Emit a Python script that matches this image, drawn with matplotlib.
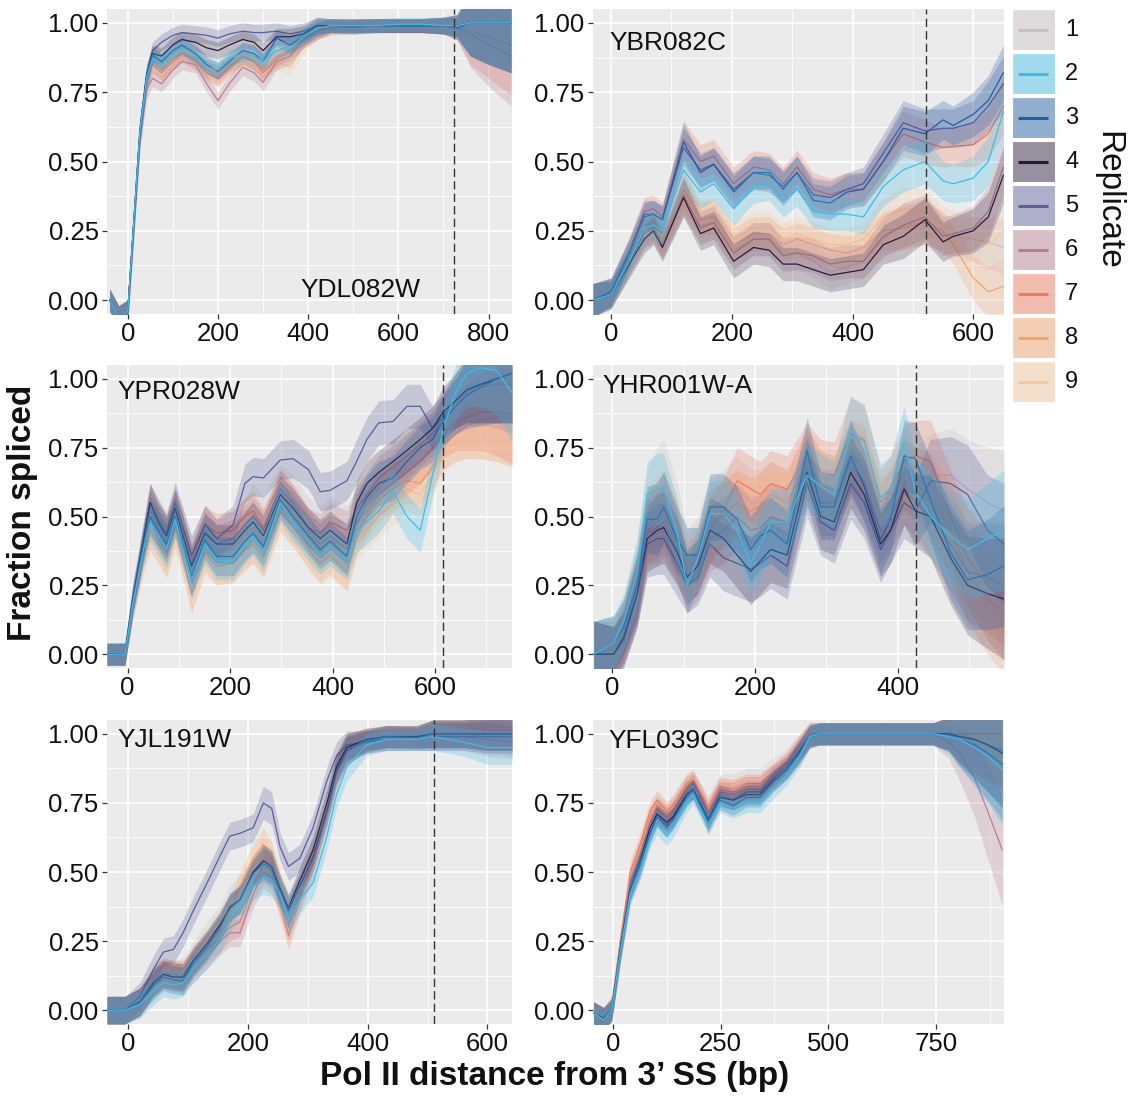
"""
Fraction spliced vs Pol II distance from the 3' splice site, six introns,
nine replicates each (smoothed mean +/- band), ggplot-like grey panels.
"""

import numpy as np
import matplotlib.pyplot as plt
from matplotlib.patches import Rectangle
from matplotlib.ticker import FixedLocator

plt.rcParams['font.family'] = ['Liberation Sans', 'DejaVu Sans']

W, H = 1134, 1098

REPLICATES = ['1', '2', '3', '4', '5', '6', '7', '8', '9']
LINE_COLORS = ['#c9bfc3', '#3fbde6', '#1d5fa8', '#2a1a38', '#5a5e9c',
               '#b77f93', '#f27b5e', '#f5a36c', '#f8c79e']
# band fills, a touch softer than the lines
FILL_COLORS = ['#c9bfc3', '#3fbde6', '#1d5fa8', '#4a3a55', '#5a5e9c',
               '#b77f93', '#f27b5e', '#f5a36c', '#f8c79e']
# replicate indices in the order the bands are layered (last = on top)
DRAW_ORDER = [0, 8, 7, 6, 5, 4, 3, 2, 1]
BAND_ALPHA = 0.26

# ── YDL082W ────────────────────────────────────────────────────────────────
ydl082w_x = [-40, -20, 0, 12, 27, 42, 55, 75, 100, 120, 150, 175, 200, 225, 255,
             280, 300, 330, 360, 390, 420, 450, 500, 550, 600, 650, 700, 730, 760, 800, 850]
ydl082w_mean = [
    [0.0, -0.06, -0.04, 0.24, 0.60, 0.80, 0.87, 0.85, 0.89, 0.91, 0.89, 0.86, 0.84, 0.87, 0.90, 0.89, 0.87, 0.90, 0.92, 0.95, 0.98, 0.99, 0.99, 0.99, 0.99, 0.99, 0.99, 0.99, 1.0, 1.0, 1.0],
    [0.0, -0.06, -0.04, 0.25, 0.61, 0.80, 0.87, 0.85, 0.89, 0.91, 0.88, 0.84, 0.83, 0.87, 0.89, 0.88, 0.86, 0.90, 0.91, 0.95, 0.98, 0.99, 0.99, 0.99, 0.995, 0.995, 0.99, 0.99, 1.0, 1.0, 1.0],
    [0.0, -0.06, -0.04, 0.24, 0.60, 0.81, 0.885, 0.86, 0.90, 0.92, 0.89, 0.85, 0.825, 0.86, 0.90, 0.89, 0.86, 0.945, 0.92, 0.95, 0.98, 0.99, 0.985, 0.99, 0.99, 0.99, 0.99, 0.98, 1.0, 1.0, 1.0],
    [0.0, -0.06, -0.04, 0.25, 0.61, 0.81, 0.89, 0.88, 0.92, 0.94, 0.93, 0.91, 0.90, 0.92, 0.94, 0.93, 0.90, 0.95, 0.95, 0.96, 0.99, 0.99, 0.99, 0.99, 0.99, 0.99, 0.99, 0.99, 1.0, 1.0, 1.0],
    [0.0, -0.06, -0.04, 0.25, 0.62, 0.82, 0.90, 0.93, 0.955, 0.965, 0.96, 0.955, 0.945, 0.96, 0.97, 0.965, 0.965, 0.97, 0.96, 0.97, 0.99, 0.99, 0.99, 0.99, 0.99, 0.99, 0.99, 0.99, 1.0, 1.0, 1.0],
    [0.0, -0.06, -0.04, 0.23, 0.58, 0.76, 0.80, 0.78, 0.83, 0.86, 0.85, 0.78, 0.72, 0.78, 0.84, 0.82, 0.785, 0.86, 0.88, 0.94, 0.97, 0.99, 0.985, 0.99, 0.99, 0.99, 0.99, 0.98, 0.96, 0.92, 0.88],
    [0.0, -0.06, -0.04, 0.24, 0.59, 0.78, 0.85, 0.82, 0.86, 0.89, 0.86, 0.82, 0.80, 0.84, 0.88, 0.86, 0.82, 0.87, 0.90, 0.94, 0.97, 0.98, 0.985, 0.99, 0.99, 0.99, 0.99, 0.98, 0.97, 0.95, 0.92],
    [0.0, -0.06, -0.04, 0.24, 0.60, 0.79, 0.86, 0.83, 0.87, 0.895, 0.87, 0.83, 0.81, 0.85, 0.88, 0.86, 0.83, 0.88, 0.89, 0.94, 0.97, 0.985, 0.99, 0.99, 0.99, 0.99, 0.99, 0.99, 1.0, 1.0, 1.0],
    [0.0, -0.06, -0.04, 0.24, 0.60, 0.79, 0.86, 0.83, 0.87, 0.89, 0.86, 0.83, 0.82, 0.85, 0.88, 0.86, 0.83, 0.86, 0.84, 0.92, 0.97, 0.985, 0.99, 0.99, 0.99, 0.99, 0.99, 0.99, 1.0, 1.0, 1.0],
]
ydl082w_half = [0.04, 0.04, 0.04, 0.04, 0.04, 0.035, 0.03, 0.03, 0.03, 0.03, 0.03, 0.03, 0.03, 0.03, 0.03,
                0.03, 0.03, 0.03, 0.03, 0.03, 0.03, 0.025, 0.025, 0.025, 0.025, 0.025, 0.03, 0.04, 0.12, 0.15, 0.18]

# ── YBR082C ────────────────────────────────────────────────────────────────
ybr082c_x = [-30, 0, 30, 55, 70, 85, 120, 148, 170, 203, 236, 262, 285, 308, 335,
             363, 391, 418, 451, 484, 520, 550, 567, 600, 625, 650]
ybr082c_mean = [
    [0.0, 0.02, 0.14, 0.23, 0.25, 0.20, 0.37, 0.27, 0.28, 0.18, 0.22, 0.22, 0.17, 0.17, 0.14, 0.10, 0.12, 0.14, 0.22, 0.27, 0.28, 0.24, 0.23, 0.22, 0.21, 0.19],
    [0.0, 0.02, 0.14, 0.26, 0.27, 0.25, 0.47, 0.39, 0.42, 0.33, 0.41, 0.42, 0.36, 0.40, 0.32, 0.31, 0.31, 0.30, 0.41, 0.47, 0.50, 0.43, 0.42, 0.44, 0.50, 0.68],
    [0.0, 0.03, 0.17, 0.30, 0.31, 0.29, 0.57, 0.46, 0.49, 0.39, 0.46, 0.46, 0.40, 0.46, 0.36, 0.35, 0.39, 0.40, 0.50, 0.62, 0.60, 0.65, 0.63, 0.67, 0.72, 0.82],
    [0.0, 0.02, 0.13, 0.22, 0.25, 0.19, 0.37, 0.24, 0.26, 0.14, 0.19, 0.18, 0.13, 0.13, 0.11, 0.09, 0.10, 0.11, 0.20, 0.23, 0.29, 0.21, 0.23, 0.25, 0.30, 0.45],
    [0.0, 0.03, 0.17, 0.31, 0.31, 0.29, 0.55, 0.47, 0.49, 0.40, 0.46, 0.45, 0.41, 0.46, 0.38, 0.37, 0.40, 0.42, 0.53, 0.64, 0.61, 0.62, 0.62, 0.64, 0.70, 0.78],
    [0.0, 0.02, 0.14, 0.24, 0.26, 0.20, 0.38, 0.26, 0.28, 0.17, 0.22, 0.22, 0.16, 0.17, 0.16, 0.13, 0.14, 0.14, 0.23, 0.27, 0.30, 0.23, 0.24, 0.26, 0.32, 0.48],
    [0.0, 0.03, 0.18, 0.32, 0.33, 0.30, 0.58, 0.50, 0.52, 0.42, 0.48, 0.47, 0.42, 0.48, 0.40, 0.38, 0.40, 0.40, 0.50, 0.60, 0.57, 0.55, 0.555, 0.56, 0.60, 0.70],
    [0.0, 0.02, 0.15, 0.25, 0.27, 0.21, 0.40, 0.29, 0.30, 0.20, 0.24, 0.24, 0.20, 0.22, 0.20, 0.18, 0.17, 0.19, 0.25, 0.26, 0.28, 0.25, 0.20, 0.08, 0.03, 0.05],
    [0.0, 0.02, 0.15, 0.25, 0.27, 0.22, 0.40, 0.30, 0.31, 0.22, 0.26, 0.26, 0.22, 0.24, 0.22, 0.20, 0.20, 0.22, 0.30, 0.33, 0.32, 0.27, 0.25, 0.22, 0.20, 0.25],
]
ybr082c_half = [0.06, 0.05, 0.05, 0.05, 0.05, 0.05, 0.07, 0.06, 0.06, 0.06, 0.06, 0.06, 0.06, 0.06, 0.06,
                0.06, 0.06, 0.06, 0.07, 0.08, 0.08, 0.07, 0.07, 0.08, 0.09, 0.10]

# ── YPR028W ────────────────────────────────────────────────────────────────
ypr028w_x = [-40, -5, 11, 31, 44, 60, 76, 93, 110, 125, 151, 174, 206, 229, 245, 265, 298, 323,
             353, 376, 395, 428, 447, 467, 490, 518, 545, 571, 595, 616, 640, 662, 690, 720, 750]
ypr028w_mean = [
    [0.0, 0.0, 0.21, 0.42, 0.55, 0.50, 0.45, 0.56, 0.45, 0.35, 0.47, 0.42, 0.45, 0.50, 0.55, 0.50, 0.62, 0.58, 0.50, 0.47, 0.50, 0.47, 0.52, 0.55, 0.60, 0.66, 0.72, 0.76, 0.80, 0.86, 0.92, 0.96, 0.98, 1.00, 1.00],
    [0.0, 0.0, 0.19, 0.38, 0.48, 0.43, 0.38, 0.49, 0.37, 0.27, 0.40, 0.34, 0.34, 0.40, 0.43, 0.37, 0.55, 0.48, 0.41, 0.36, 0.39, 0.34, 0.45, 0.48, 0.52, 0.59, 0.50, 0.45, 0.65, 0.82, 0.95, 1.02, 1.04, 1.03, 0.95],
    [0.0, 0.0, 0.20, 0.39, 0.50, 0.45, 0.40, 0.50, 0.38, 0.28, 0.415, 0.355, 0.355, 0.41, 0.44, 0.39, 0.56, 0.50, 0.43, 0.38, 0.41, 0.355, 0.50, 0.57, 0.62, 0.64, 0.70, 0.75, 0.78, 0.85, 0.90, 0.94, 0.97, 1.00, 1.02],
    [0.0, 0.0, 0.21, 0.41, 0.55, 0.48, 0.43, 0.53, 0.42, 0.32, 0.44, 0.40, 0.40, 0.45, 0.48, 0.43, 0.58, 0.53, 0.46, 0.42, 0.45, 0.40, 0.55, 0.62, 0.66, 0.70, 0.74, 0.78, 0.82, 0.88, 0.92, 0.96, 0.98, 1.00, 1.02],
    [0.0, 0.0, 0.21, 0.42, 0.55, 0.49, 0.44, 0.55, 0.45, 0.36, 0.47, 0.42, 0.47, 0.62, 0.645, 0.64, 0.705, 0.71, 0.67, 0.59, 0.595, 0.63, 0.70, 0.78, 0.84, 0.845, 0.90, 0.90, 0.82, 0.86, 0.92, 0.96, 0.98, 1.00, 1.02],
    [0.0, 0.0, 0.20, 0.40, 0.53, 0.47, 0.43, 0.53, 0.42, 0.32, 0.45, 0.40, 0.42, 0.47, 0.50, 0.45, 0.60, 0.55, 0.46, 0.44, 0.48, 0.45, 0.53, 0.58, 0.64, 0.68, 0.72, 0.76, 0.80, 0.85, 0.90, 0.95, 0.97, 0.98, 0.98],
    [0.0, 0.0, 0.20, 0.40, 0.52, 0.46, 0.42, 0.52, 0.43, 0.33, 0.47, 0.44, 0.45, 0.50, 0.52, 0.46, 0.60, 0.54, 0.45, 0.40, 0.43, 0.38, 0.48, 0.52, 0.58, 0.62, 0.66, 0.70, 0.75, 0.80, 0.84, 0.86, 0.88, 0.88, 0.87],
    [0.0, 0.0, 0.18, 0.36, 0.45, 0.40, 0.35, 0.46, 0.34, 0.22, 0.37, 0.32, 0.33, 0.38, 0.40, 0.35, 0.52, 0.46, 0.38, 0.33, 0.36, 0.30, 0.44, 0.50, 0.56, 0.60, 0.63, 0.62, 0.68, 0.76, 0.80, 0.83, 0.85, 0.86, 0.86],
    [0.0, 0.0, 0.18, 0.35, 0.44, 0.40, 0.35, 0.45, 0.33, 0.22, 0.36, 0.32, 0.33, 0.37, 0.40, 0.35, 0.51, 0.46, 0.38, 0.32, 0.35, 0.30, 0.42, 0.46, 0.50, 0.55, 0.60, 0.58, 0.65, 0.75, 0.80, 0.83, 0.85, 0.86, 0.86],
]
ypr028w_half = [0.04, 0.04, 0.05, 0.06, 0.07, 0.07, 0.07, 0.07, 0.07, 0.07, 0.07, 0.07, 0.07, 0.07, 0.07, 0.07, 0.07, 0.07,
                0.07, 0.07, 0.07, 0.07, 0.08, 0.08, 0.08, 0.08, 0.08, 0.08, 0.08, 0.09, 0.10, 0.12, 0.14, 0.16, 0.18]

# ── YHR001W-A ──────────────────────────────────────────────────────────────
yhr001wa_x = [-26, 2, 16, 35, 49, 63, 72, 91, 105, 120, 137, 156, 175, 194, 208, 222,
              245, 273, 292, 311, 334, 353, 376, 390, 409, 425, 446, 474, 498, 526, 549]
yhr001wa_mean = [
    [0.0, 0.03, 0.10, 0.30, 0.55, 0.62, 0.65, 0.50, 0.35, 0.40, 0.52, 0.55, 0.60, 0.55, 0.55, 0.58, 0.55, 0.70, 0.62, 0.60, 0.72, 0.68, 0.52, 0.55, 0.65, 0.62, 0.65, 0.65, 0.60, 0.55, 0.52],
    [0.0, 0.04, 0.12, 0.30, 0.58, 0.60, 0.60, 0.44, 0.25, 0.35, 0.51, 0.51, 0.45, 0.33, 0.40, 0.48, 0.48, 0.65, 0.61, 0.58, 0.81, 0.77, 0.57, 0.60, 0.77, 0.59, 0.50, 0.43, 0.38, 0.42, 0.45],
    [0.0, 0.04, 0.10, 0.25, 0.49, 0.49, 0.535, 0.415, 0.36, 0.36, 0.535, 0.535, 0.49, 0.38, 0.43, 0.45, 0.40, 0.74, 0.535, 0.535, 0.72, 0.61, 0.415, 0.49, 0.72, 0.71, 0.56, 0.37, 0.27, 0.29, 0.32],
    [0.0, 0.0, 0.06, 0.22, 0.42, 0.45, 0.46, 0.37, 0.28, 0.32, 0.45, 0.42, 0.36, 0.30, 0.34, 0.38, 0.36, 0.66, 0.50, 0.48, 0.66, 0.58, 0.40, 0.45, 0.60, 0.52, 0.50, 0.35, 0.25, 0.22, 0.20],
    [0.0, 0.0, 0.05, 0.22, 0.40, 0.42, 0.42, 0.33, 0.25, 0.28, 0.40, 0.35, 0.33, 0.31, 0.33, 0.36, 0.32, 0.62, 0.48, 0.45, 0.62, 0.55, 0.38, 0.45, 0.55, 0.52, 0.63, 0.62, 0.58, 0.45, 0.40],
    [0.0, 0.0, 0.07, 0.24, 0.44, 0.46, 0.48, 0.38, 0.25, 0.30, 0.42, 0.45, 0.50, 0.45, 0.46, 0.50, 0.48, 0.68, 0.55, 0.55, 0.70, 0.62, 0.45, 0.50, 0.60, 0.55, 0.50, 0.40, 0.30, 0.28, 0.25],
    [0.0, 0.0, 0.08, 0.24, 0.45, 0.48, 0.50, 0.40, 0.25, 0.33, 0.45, 0.52, 0.63, 0.60, 0.58, 0.62, 0.60, 0.72, 0.66, 0.65, 0.80, 0.78, 0.55, 0.60, 0.70, 0.72, 0.70, 0.50, 0.35, 0.25, 0.20],
    [0.0, 0.02, 0.09, 0.26, 0.47, 0.50, 0.52, 0.42, 0.30, 0.35, 0.48, 0.50, 0.55, 0.52, 0.54, 0.58, 0.55, 0.70, 0.62, 0.60, 0.72, 0.70, 0.50, 0.55, 0.66, 0.62, 0.58, 0.45, 0.30, 0.20, 0.15],
    [0.0, 0.03, 0.10, 0.28, 0.50, 0.52, 0.55, 0.45, 0.32, 0.38, 0.50, 0.52, 0.55, 0.50, 0.52, 0.55, 0.53, 0.68, 0.60, 0.58, 0.70, 0.66, 0.50, 0.55, 0.65, 0.60, 0.55, 0.45, 0.35, 0.30, 0.28],
]
yhr001wa_half = [0.12, 0.10, 0.10, 0.12, 0.12, 0.13, 0.13, 0.12, 0.10, 0.10, 0.12, 0.12, 0.12, 0.12, 0.12, 0.12,
                 0.12, 0.12, 0.12, 0.12, 0.13, 0.13, 0.12, 0.12, 0.13, 0.13, 0.15, 0.17, 0.18, 0.20, 0.22]

# ── YJL191W ────────────────────────────────────────────────────────────────
yjl191w_x = [-35, -5, 20, 43, 59, 76, 92, 109, 132, 154, 170, 187, 209, 226, 240,
             254, 268, 287, 309, 332, 348, 365, 398, 432, 482, 509, 560, 600, 641]
yjl191w_mean = [
    [0.0, 0.0, 0.03, 0.11, 0.14, 0.13, 0.14, 0.20, 0.27, 0.33, 0.40, 0.44, 0.50, 0.54, 0.52, 0.44, 0.37, 0.47, 0.58, 0.75, 0.88, 0.95, 0.98, 0.99, 0.99, 1.0, 1.0, 0.99, 0.98],
    [0.0, 0.0, 0.02, 0.07, 0.10, 0.09, 0.10, 0.15, 0.20, 0.26, 0.33, 0.38, 0.45, 0.48, 0.47, 0.42, 0.33, 0.40, 0.46, 0.63, 0.78, 0.88, 0.96, 0.98, 0.98, 0.99, 0.97, 0.95, 0.95],
    [0.0, 0.0, 0.03, 0.09, 0.12, 0.11, 0.105, 0.17, 0.23, 0.30, 0.375, 0.40, 0.495, 0.53, 0.51, 0.425, 0.36, 0.45, 0.555, 0.72, 0.865, 0.94, 0.975, 0.99, 0.985, 1.0, 1.0, 1.0, 1.0],
    [0.0, 0.0, 0.03, 0.10, 0.13, 0.12, 0.12, 0.18, 0.24, 0.31, 0.37, 0.40, 0.50, 0.54, 0.52, 0.44, 0.37, 0.47, 0.58, 0.75, 0.88, 0.95, 0.98, 0.99, 0.99, 1.0, 1.0, 1.0, 1.0],
    [0.0, 0.0, 0.05, 0.15, 0.21, 0.22, 0.28, 0.36, 0.46, 0.56, 0.63, 0.64, 0.66, 0.75, 0.73, 0.59, 0.52, 0.55, 0.66, 0.83, 0.92, 0.96, 0.97, 0.98, 0.98, 0.99, 0.99, 0.99, 0.99],
    [0.0, 0.0, 0.03, 0.10, 0.13, 0.13, 0.11, 0.15, 0.20, 0.25, 0.28, 0.28, 0.42, 0.50, 0.48, 0.40, 0.30, 0.42, 0.55, 0.72, 0.86, 0.94, 0.97, 0.98, 0.98, 0.99, 0.99, 0.98, 0.97],
    [0.0, 0.0, 0.03, 0.11, 0.14, 0.13, 0.13, 0.17, 0.22, 0.26, 0.30, 0.32, 0.45, 0.52, 0.50, 0.38, 0.27, 0.40, 0.53, 0.72, 0.86, 0.94, 0.97, 0.99, 0.99, 1.0, 1.0, 1.0, 1.0],
    [0.0, 0.0, 0.03, 0.10, 0.13, 0.12, 0.12, 0.18, 0.24, 0.30, 0.36, 0.45, 0.55, 0.60, 0.55, 0.45, 0.35, 0.45, 0.57, 0.74, 0.88, 0.95, 0.98, 0.99, 0.99, 1.0, 1.0, 1.0, 1.0],
    [0.0, 0.0, 0.03, 0.10, 0.13, 0.12, 0.12, 0.17, 0.23, 0.29, 0.35, 0.42, 0.52, 0.57, 0.53, 0.44, 0.35, 0.44, 0.55, 0.73, 0.87, 0.95, 0.98, 0.99, 0.99, 1.0, 1.0, 1.0, 0.98],
]
yjl191w_half = [0.05, 0.05, 0.05, 0.05, 0.05, 0.05, 0.05, 0.05, 0.05, 0.05, 0.05, 0.05, 0.05, 0.06, 0.06,
                0.05, 0.05, 0.05, 0.05, 0.05, 0.05, 0.05, 0.04, 0.04, 0.04, 0.05, 0.05, 0.06, 0.06]

# ── YFL039C ────────────────────────────────────────────────────────────────
yfl039c_x = [-45, -22, -3, 17, 40, 63, 86, 102, 125, 140, 171, 186, 209, 221, 248, 279,
             310, 341, 372, 403, 434, 457, 480, 550, 650, 743, 780, 805, 840, 870, 904]
yfl039c_mean = [
    [-0.01, -0.03, 0.01, 0.24, 0.47, 0.57, 0.70, 0.74, 0.71, 0.75, 0.82, 0.84, 0.77, 0.74, 0.82, 0.82, 0.84, 0.84, 0.88, 0.91, 0.96, 1.0, 1.0, 1.0, 1.0, 1.0, 1.0, 1.0, 1.0, 1.0, 1.0],
    [-0.01, -0.035, 0.0, 0.21, 0.42, 0.51, 0.62, 0.67, 0.63, 0.66, 0.75, 0.78, 0.71, 0.67, 0.75, 0.73, 0.75, 0.75, 0.80, 0.85, 0.92, 0.99, 1.0, 1.0, 1.0, 1.0, 0.99, 0.98, 0.95, 0.92, 0.87],
    [-0.01, -0.035, 0.0, 0.22, 0.435, 0.53, 0.64, 0.70, 0.66, 0.69, 0.77, 0.795, 0.72, 0.675, 0.76, 0.74, 0.77, 0.77, 0.825, 0.87, 0.93, 0.99, 1.0, 1.0, 1.0, 1.0, 0.995, 0.98, 0.96, 0.93, 0.89],
    [-0.01, -0.03, 0.0, 0.22, 0.44, 0.54, 0.66, 0.71, 0.68, 0.70, 0.78, 0.80, 0.73, 0.69, 0.77, 0.76, 0.78, 0.78, 0.83, 0.87, 0.94, 0.99, 1.0, 1.0, 1.0, 1.0, 1.0, 0.99, 0.98, 0.96, 0.93],
    [-0.01, -0.03, 0.0, 0.21, 0.43, 0.52, 0.64, 0.70, 0.67, 0.70, 0.78, 0.80, 0.73, 0.69, 0.78, 0.76, 0.79, 0.79, 0.84, 0.88, 0.94, 0.99, 1.0, 1.0, 1.0, 1.0, 1.0, 0.99, 0.98, 0.96, 0.94],
    [-0.01, -0.03, 0.0, 0.23, 0.46, 0.56, 0.68, 0.73, 0.70, 0.72, 0.80, 0.82, 0.75, 0.71, 0.79, 0.78, 0.80, 0.80, 0.85, 0.89, 0.95, 1.0, 1.0, 1.0, 1.0, 1.0, 0.97, 0.93, 0.84, 0.72, 0.58],
    [-0.01, -0.03, 0.01, 0.25, 0.50, 0.60, 0.72, 0.76, 0.72, 0.74, 0.82, 0.83, 0.77, 0.73, 0.81, 0.80, 0.82, 0.82, 0.86, 0.90, 0.96, 1.0, 1.0, 1.0, 1.0, 1.0, 1.0, 1.0, 1.0, 1.0, 1.0],
    [-0.01, -0.03, 0.01, 0.24, 0.48, 0.58, 0.70, 0.74, 0.71, 0.73, 0.81, 0.83, 0.76, 0.72, 0.80, 0.79, 0.81, 0.81, 0.85, 0.89, 0.95, 1.0, 1.0, 1.0, 1.0, 1.0, 1.0, 1.0, 1.0, 1.0, 1.0],
    [-0.01, -0.03, 0.01, 0.24, 0.47, 0.57, 0.69, 0.73, 0.70, 0.72, 0.80, 0.82, 0.75, 0.71, 0.79, 0.78, 0.80, 0.80, 0.84, 0.88, 0.94, 0.99, 1.0, 1.0, 1.0, 1.0, 1.0, 1.0, 1.0, 1.0, 1.0],
]
yfl039c_half = [0.04, 0.04, 0.04, 0.04, 0.04, 0.04, 0.035, 0.035, 0.035, 0.035, 0.035, 0.035, 0.035, 0.035, 0.035, 0.035,
                0.035, 0.035, 0.035, 0.035, 0.04, 0.04, 0.04, 0.04, 0.04, 0.04, 0.06, 0.10, 0.14, 0.17, 0.20]

# name, data, 3' end of intron (dashed), x limits, major ticks, minor ticks, label spot
PANELS = [
    ('YDL082W', ydl082w_x, ydl082w_mean, ydl082w_half, 723,
     (-46, 852), [0, 200, 400, 600, 800], [100, 300, 500, 700], (0.477, 0.079)),
    ('YBR082C', ybr082c_x, ybr082c_mean, ybr082c_half, 522,
     (-30, 651), [0, 200, 400, 600], [100, 300, 500], (0.041, 0.89)),
    ('YPR028W', ypr028w_x, ypr028w_mean, ypr028w_half, 615,
     (-40, 750), [0, 200, 400, 600], [100, 300, 500, 700], (0.027, 0.91)),
    ('YHR001W-A', yhr001wa_x, yhr001wa_mean, yhr001wa_half, 425,
     (-27, 549), [0, 200, 400], [100, 300, 500], (0.022, 0.93)),
    ('YJL191W', yjl191w_x, yjl191w_mean, yjl191w_half, 510,
     (-35, 641), [0, 200, 400, 600], [100, 300, 500], (0.027, 0.934)),
    ('YFL039C', yfl039c_x, yfl039c_mean, yfl039c_half, None,
     (-46.5, 908), [0, 250, 500, 750], [125, 375, 625, 875], (0.037, 0.93)),
]

# panel boxes in pixels
COLS = [(107, 512), (593, 1004)]
ROWS = [(9, 314), (365, 668), (720, 1024)]

TEXT = '#111111'
fig = plt.figure(figsize=(W / 100, H / 100), dpi=100)

for k, (name, xs, means, half, ss3, xlim, major, minor, lab) in enumerate(PANELS):
    (x0, x1), (y0, y1) = COLS[k % 2], ROWS[k // 2]
    ax = fig.add_axes([x0 / W, 1 - y1 / H, (x1 - x0) / W, (y1 - y0) / H])
    ax.set_facecolor('#ebebeb')
    for s in ax.spines.values():
        s.set_visible(False)

    xs = np.asarray(xs, float)
    hw = np.asarray(half, float)
    for i in DRAW_ORDER:
        m = np.asarray(means[i], float)
        ax.fill_between(xs, m - hw, m + hw, color=FILL_COLORS[i],
                        alpha=BAND_ALPHA, lw=0, zorder=2)
        ax.plot(xs, m, color=LINE_COLORS[i], lw=0.9, zorder=2)

    if ss3 is not None:
        ax.axvline(ss3, color='#333333', lw=1.0, ls=(0, (6, 3)), zorder=3)

    ax.set_xlim(*xlim)
    ax.set_ylim(-0.05, 1.05)
    ax.set_xticks(major)
    ax.xaxis.set_minor_locator(FixedLocator(minor))
    ax.set_yticks([0, 0.25, 0.5, 0.75, 1.0])
    ax.set_yticklabels(['0.00', '0.25', '0.50', '0.75', '1.00'])
    ax.yaxis.set_minor_locator(FixedLocator([0.125, 0.375, 0.625, 0.875]))
    ax.grid(True, which='major', color='white', lw=1.2, zorder=1)
    ax.grid(True, which='minor', color='white', lw=0.6, zorder=1)
    ax.set_axisbelow(True)
    ax.tick_params(which='major', length=3.5, width=0.9, color='#333333',
                   labelsize=18.5, labelcolor=TEXT, pad=2.5)
    ax.tick_params(which='minor', length=0)

    ax.text(lab[0], lab[1], name, transform=ax.transAxes, fontsize=19,
            color=TEXT, ha='left', va='center', zorder=5)

fig.text(23 / W, 1 - 513 / H, 'Fraction spliced', rotation=90, fontsize=24,
         fontweight='bold', color=TEXT, ha='center', va='center')
fig.text(555 / W, 1 - 1077 / H, 'Pol II distance from 3\u2019 SS (bp)', fontsize=24,
         fontweight='bold', color=TEXT, ha='center', va='center')

# legend: smooth-style keys (band + line) stacked down the right edge
lg = fig.add_axes([1005 / W, 1 - 410 / H, 129 / W, 410 / H])
lg.set_xlim(0, 129)
lg.set_ylim(410, 0)
lg.axis('off')
for i, (rep, col) in enumerate(zip(REPLICATES, LINE_COLORS)):
    top = 10 + 44 * i
    lg.add_patch(Rectangle((8, top), 42, 40, facecolor='#f2f2f2', edgecolor='white', lw=1))
    lg.add_patch(Rectangle((8, top), 42, 40, facecolor=col, alpha=0.45, lw=0))
    lg.plot([13, 43], [top + 20, top + 20], color=col, lw=2.2, solid_capstyle='butt')
    lg.text(60, top + 20, rep, fontsize=17, color=TEXT, ha='left', va='center')
lg.text(103, 200, 'Replicate', rotation=270, fontsize=24, color=TEXT,
        ha='center', va='center')

fig.savefig('out.png', dpi=100)
